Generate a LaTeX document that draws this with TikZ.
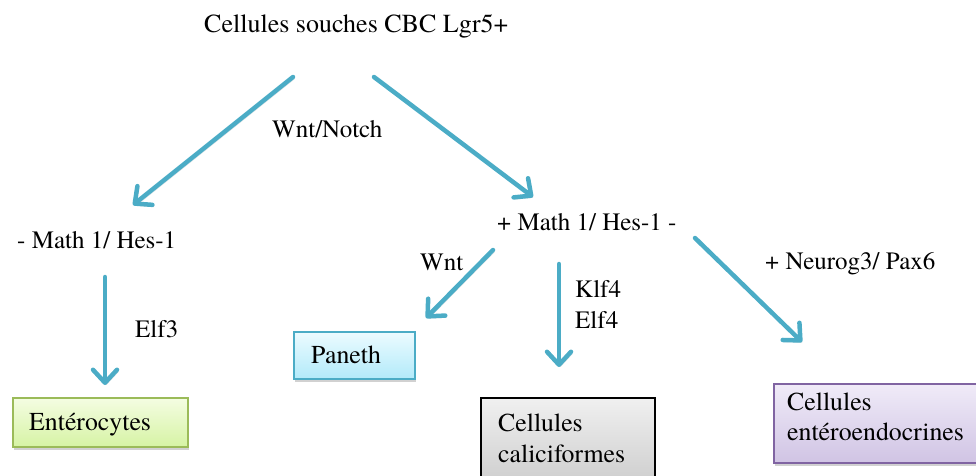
\documentclass[tikz,border=0pt]{standalone}
\usepackage{fontspec}
\IfFontExistsTF{texgyretermes-regular.otf}
  {\setmainfont{texgyretermes}[Extension=.otf,UprightFont=*-regular,BoldFont=*-bold,ItalicFont=*-italic,BoldItalicFont=*-bolditalic]}
  {}
\usetikzlibrary{arrows.meta,shadows}
\definecolor{arrowc}{HTML}{4BACC6}
\definecolor{entdraw}{HTML}{9BBB59}
\definecolor{pandraw}{HTML}{4BACC6}
\definecolor{entdraw2}{HTML}{8064A2}
\tikzset{
  lbl/.style={inner sep=0pt, font=\fontsize{25}{30}\selectfont},
  boxlbl/.style={inner sep=0pt, font=\fontsize{25.8}{30}\selectfont},
  flow/.style={draw=arrowc, line width=4.5pt, line cap=round, line join=round,
    -{Straight Barb[length=13pt,width=24pt,line cap=round,line join=round]},
    preaction={draw=black!12, transform canvas={xshift=1.5pt,yshift=-2pt}}},
  cellbox/.style={rectangle, inner sep=0pt, line width=1.8pt, anchor=north west,
    drop shadow={shadow xshift=1.5pt, shadow yshift=-3pt, fill=black!30, opacity=0.6}},
  entbox/.style={cellbox, draw=entdraw, top color={rgb,255:red,244;green,253;blue,226}, bottom color={rgb,255:red,214;green,243;blue,164}},
  panbox/.style={cellbox, draw=pandraw, top color={rgb,255:red,236;green,251;blue,255}, bottom color={rgb,255:red,178;green,234;blue,250}},
  calbox/.style={cellbox, draw=black, top color={rgb,255:red,240;green,240;blue,240}, bottom color={rgb,255:red,200;green,200;blue,200}},
  endbox/.style={cellbox, draw=entdraw2, top color={rgb,255:red,240;green,235;blue,248}, bottom color={rgb,255:red,208;green,196;blue,228}},
}
\begin{document}
\begin{tikzpicture}[x=1pt,y=-1pt]
\useasboundingbox (0,0) rectangle (976,475);
\clip (0,0) rectangle (976,475);

% boxes
\node[entbox, minimum width=175pt, minimum height=49pt] (entb) at (12,397) {};
\node[panbox, minimum width=121pt, minimum height=47pt] (panb) at (293,331) {};
\node[calbox, minimum width=174pt, minimum height=100pt] (calb) at (480,397) {};
\node[endbox, minimum width=240pt, minimum height=79pt] (endb) at (773,383) {};

% texts
\node[lbl, anchor=base west, font=\fontsize{26}{30}\selectfont] (title) at (204,32) {Cellules souches CBC Lgr5+};
\node[lbl, anchor=base west] (wntnotch) at (272,137) {Wnt/Notch};
\node[lbl, anchor=base west] (neg) at (17,248) {- Math 1/ Hes-1};
\node[lbl, anchor=base west] (pos) at (497,230) {+ Math 1/ Hes-1 -};
\node[lbl, anchor=base west] (wnt) at (420,270) {Wnt};
\node[lbl, anchor=base west] (klf) at (575,297) {Klf4};
\node[lbl, anchor=base west] (elf4) at (575,328) {Elf4};
\node[lbl, anchor=base west] (neurog) at (765,269) {+ Neurog3/ Pax6};
\node[lbl, anchor=base west] (elf3) at (135,337) {Elf3};
\node[boxlbl, anchor=base west] (entt) at (29,430) {Entérocytes};
\node[boxlbl, anchor=base west] (pant) at (311,363) {Paneth};
\node[boxlbl, anchor=base west] (calt1) at (498,431) {Cellules};
\node[boxlbl, anchor=base west] (calt2) at (498,462) {caliciformes};
\node[boxlbl, anchor=base west] (endt1) at (787,410) {Cellules};
\node[boxlbl, anchor=base west] (endt2) at (787,440) {entéroendocrines};

% arrow end points
\coordinate (a1s) at (293,77);  \coordinate (a1e) at (133,205);
\coordinate (a2s) at (374,77);  \coordinate (a2e) at (533,197);
\coordinate (a3s) at (105,277); \coordinate (a3e) at (105,385);
\coordinate (a4s) at (493,250); \coordinate (a4e) at (426,318);
\coordinate (a5s) at (559,264); \coordinate (a5e) at (559,367);
\coordinate (a6s) at (695,238); \coordinate (a6e) at (802,342);

\draw[flow] (a1s) -- (a1e);
\draw[flow] (a2s) -- (a2e);
\draw[flow] (a3s) -- (a3e);
\draw[flow] (a4s) -- (a4e);
\draw[flow] (a5s) -- (a5e);
\draw[flow] (a6s) -- (a6e);
\end{tikzpicture}
\end{document}
